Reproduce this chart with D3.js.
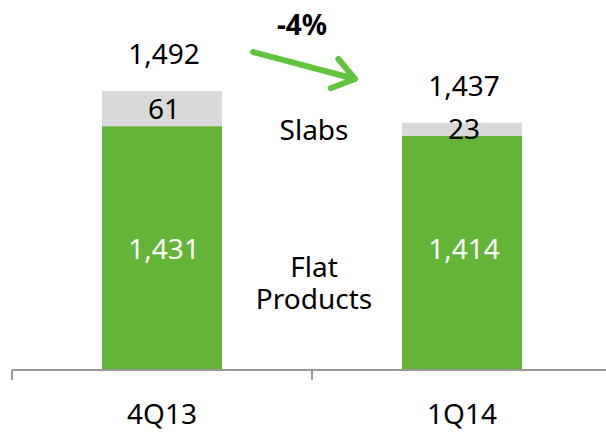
<!DOCTYPE html>
<html>
<head>
<meta charset="utf-8">
<script src="https://cdn.jsdelivr.net/npm/d3@7"></script>
<style>
    body { margin: 0; background: #fff; }
    svg { display: block; font-family: "Noto Sans", sans-serif; }
</style>
</head>
<body>
<svg id="chart" width="606" height="432"></svg>
<script>
// Données
const quarters = ["4Q13", "1Q14"];
const flatProducts = [1431, 1414];
const slabs = [61, 23];
const totals = [1492, 1437];
const variation = "-4%";
const seriesNames = ["Slabs", "Flat Products"];

const svg = d3.select("#chart");
const baseY = 370;

// axe Y coupé (la base ne part pas de zéro)
const y = d3.scaleLinear()
    .domain([1008, 1492])
    .range([baseY, 91]);

const x = d3.scaleBand()
    .domain(quarters)
    .range([12, 612])
    .paddingInner(0.6)
    .paddingOuter(0.3);

const rows = quarters.map((q, i) => ({
    q: q,
    flat: flatProducts[i],
    slabs: slabs[i],
    total: totals[i]
}));

// barres vertes
svg.selectAll(".flat")
    .data(rows)
    .enter()
    .append("rect")
    .attr("class", "flat")
    .attr("x", d => x(d.q))
    .attr("y", d => y(d.flat))
    .attr("width", x.bandwidth())
    .attr("height", d => baseY - y(d.flat))
    .style("fill", "#63b437");

// barres grises
svg.selectAll(".slab")
    .data(rows)
    .enter()
    .append("rect")
    .attr("class", "slab")
    .attr("x", d => x(d.q))
    .attr("y", d => y(d.flat + d.slabs))
    .attr("width", x.bandwidth())
    .attr("height", d => y(d.flat) - y(d.flat + d.slabs))
    .style("fill", "#d9d9d9");

// axe
const axis = svg.append("g").attr("stroke", "#999").attr("stroke-width", 2);
axis.append("line")
    .attr("x1", 12).attr("x2", 606)
    .attr("y1", baseY).attr("y2", baseY);
// ticks entre les catégories
const bounds = quarters.map((q, i) => x.range()[0] + i * x.step());
bounds.forEach(b => {
    axis.append("line")
        .attr("x1", b).attr("x2", b)
        .attr("y1", baseY).attr("y2", baseY + 10);
});

const cx = d => x(d.q) + x.bandwidth() / 2 + 2;

// étiquettes
svg.selectAll(".cat")
    .data(rows)
    .enter()
    .append("text")
    .attr("x", d => x(d.q) + x.bandwidth() / 2)
    .attr("y", 424)
    .attr("text-anchor", "middle")
    .attr("font-size", 28)
    .style("fill", "#000")
    .text(d => d.q);

svg.selectAll(".total")
    .data(rows)
    .enter()
    .append("text")
    .attr("x", cx)
    .attr("y", d => y(d.total) - 27)
    .attr("text-anchor", "middle")
    .attr("font-size", 28)
    .text(d => d3.format(",")(d.total));

svg.selectAll(".slabLabel")
    .data(rows)
    .enter()
    .append("text")
    .attr("x", cx)
    .attr("y", d => (y(d.flat) + y(d.flat + d.slabs)) / 2 + 10)
    .attr("text-anchor", "middle")
    .attr("font-size", 28)
    .text(d => d.slabs);

svg.selectAll(".flatLabel")
    .data(rows)
    .enter()
    .append("text")
    .attr("x", cx)
    .attr("y", 259)
    .attr("text-anchor", "middle")
    .attr("font-size", 28)
    .style("fill", "#fff")
    .text(d => d3.format(",")(d.flat));

// légende au milieu
const midX = x.range()[0] + x.step();
svg.append("text")
    .attr("x", midX + 2)
    .attr("y", 140)
    .attr("text-anchor", "middle")
    .attr("font-size", 28)
    .text(seriesNames[0]);

const legendFlat = svg.append("text")
    .attr("text-anchor", "middle")
    .attr("font-size", 28);
seriesNames[1].split(" ").forEach((w, i) => {
    legendFlat.append("tspan")
        .attr("x", midX + 2)
        .attr("y", 277 + i * 32)
        .text(w);
});

// flèche -4%
svg.append("text")
    .attr("x", 302)
    .attr("y", 35)
    .attr("text-anchor", "middle")
    .attr("font-size", 28)
    .attr("font-weight", "bold")
    .text(variation);

const x1 = 253, y1 = 52, x2 = 355, y2 = 79;
const ang = Math.atan2(y2 - y1, x2 - x1);
const head = 26, spread = 0.62;
svg.append("path")
    .attr("d", `M${x1},${y1}L${x2},${y2}` +
        `M${x2 - head * Math.cos(ang - spread)},${y2 - head * Math.sin(ang - spread)}` +
        `L${x2},${y2}` +
        `L${x2 - head * Math.cos(ang + spread)},${y2 - head * Math.sin(ang + spread)}`)
    .attr("fill", "none")
    .attr("stroke", "#62c43c")
    .attr("stroke-width", 6)
    .attr("stroke-linecap", "round")
    .attr("stroke-linejoin", "round");
</script>
</body>
</html>
